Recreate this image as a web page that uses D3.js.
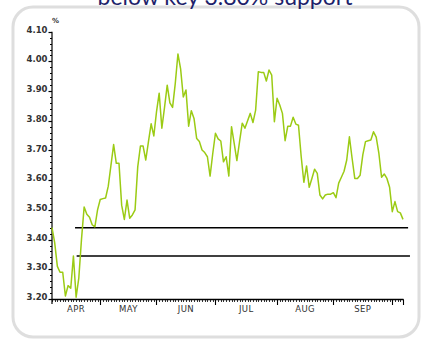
<!DOCTYPE html>
<html>
<head>
<meta charset="utf-8">
<script src="https://cdn.jsdelivr.net/npm/d3@7"></script>
<style>
  body { margin: 0; background: #fff; }
  svg { display: block; }
  .tick-label { font-family: "DejaVu Sans", sans-serif; fill: #333; }
</style>
</head>
<body>
<svg id="chart" width="424" height="342"></svg>
<script>
// daily yields, trading days from 7 Apr 2009
var startDate = "2009-04-07";
var yields = [
  3.44, 3.39, 3.31, 3.29, 3.29, 3.21, 3.245, 3.236, 3.345, 3.206,
  3.27, 3.40, 3.51, 3.485, 3.475, 3.45, 3.443, 3.50, 3.535, 3.538,
  3.54, 3.58, 3.65, 3.72, 3.657, 3.657, 3.516, 3.468, 3.533, 3.472,
  3.483, 3.50, 3.645, 3.715, 3.715, 3.668, 3.73, 3.79, 3.749, 3.83,
  3.893, 3.775, 3.845, 3.92, 3.86, 3.845, 3.925, 4.025, 3.975, 3.88,
  3.904, 3.782, 3.834, 3.808, 3.74, 3.73, 3.702, 3.693, 3.679, 3.614,
  3.69, 3.758, 3.739, 3.732, 3.662, 3.679, 3.614, 3.78, 3.724, 3.666,
  3.73, 3.792, 3.775, 3.80, 3.825, 3.794, 3.836, 3.965, 3.963, 3.963,
  3.934, 3.971, 3.954, 3.797, 3.876, 3.853, 3.825, 3.733, 3.782, 3.782,
  3.812, 3.789, 3.785, 3.68, 3.593, 3.648, 3.576, 3.606, 3.637, 3.623,
  3.55, 3.537, 3.55, 3.553, 3.553, 3.558, 3.541, 3.59, 3.61, 3.63,
  3.668, 3.746, 3.674, 3.606, 3.606, 3.617, 3.685, 3.73, 3.733, 3.735,
  3.763, 3.745, 3.69, 3.61, 3.621, 3.606, 3.576, 3.494, 3.528, 3.494,
  3.49, 3.468
];
var monthNames = ["APR", "MAY", "JUN", "JUL", "AUG", "SEP", "OCT"];
var yTickValues = [3.2, 3.3, 3.4, 3.5, 3.6, 3.7, 3.8, 3.9, 4.0, 4.1];
// support lines: level and start / end in trading-day units
var supportLevels = [3.44, 3.345];
var supportFrom = [8.6, 9.2];
var supportTo = [132.9, 133.6];
var titleText = "below key 3.80% support";

// trading days (weekdays) for each value
var dates = [];
var d = new Date(startDate + "T00:00:00");
while (dates.length < yields.length) {
    if (d.getDay() != 0 && d.getDay() != 6) dates.push(new Date(d));
    d.setDate(d.getDate() + 1);
}

var svg = d3.select("#chart");

// rounded panel
svg.append("rect")
    .attr("x", 13).attr("y", 7)
    .attr("width", 406).attr("height", 330)
    .attr("rx", 20).attr("ry", 20)
    .attr("fill", "#fff")
    .attr("stroke", "#dedede")
    .attr("stroke-width", 3);

svg.append("text")
    .attr("x", 225).attr("y", 5)
    .attr("text-anchor", "middle")
    .attr("font-family", "Lato, 'DejaVu Sans', sans-serif")
    .attr("font-size", 23)
    .attr("fill", "#1e1f6b")
    .text(titleText);

var x = d3.scaleLinear().domain([0, yields.length - 1]).range([52, 403]);
var y = d3.scaleLinear().domain([3.2, 4.1]).range([299, 31.7]);

var g = svg.append("g");

// y axis
var yMinor = d3.range(3.2, 4.1001, 0.02);
g.append("line")
    .attr("x1", 52).attr("x2", 52)
    .attr("y1", y(4.1)).attr("y2", 304)
    .attr("stroke", "#000").attr("stroke-width", 1.2);
g.selectAll(".yminor").data(yMinor).enter().append("line")
    .attr("x1", 50).attr("x2", 52)
    .attr("y1", function(v) { return Math.round(y(v)) + 0.5; })
    .attr("y2", function(v) { return Math.round(y(v)) + 0.5; })
    .attr("stroke", "#000").attr("stroke-width", 1);
g.selectAll(".ymajor").data(yTickValues).enter().append("line")
    .attr("x1", 48.5).attr("x2", 52)
    .attr("y1", function(v) { return Math.round(y(v)) + 0.5; })
    .attr("y2", function(v) { return Math.round(y(v)) + 0.5; })
    .attr("stroke", "#000").attr("stroke-width", 1.2);
g.selectAll(".ylab").data(yTickValues).enter().append("text")
    .attr("class", "tick-label")
    .attr("x", 47.5)
    .attr("y", function(v) { return y(v) + 1; })
    .attr("text-anchor", "end")
    .attr("font-size", 8.5)
    .attr("font-weight", "bold")
    .text(function(v) { return d3.format(".2f")(v); });
g.append("text")
    .attr("class", "tick-label")
    .attr("x", 52).attr("y", 23)
    .attr("font-size", 7)
    .attr("font-weight", "bold")
    .text("%");

// x axis
g.append("line")
    .attr("x1", 52).attr("x2", 403.5)
    .attr("y1", 299.5).attr("y2", 299.5)
    .attr("stroke", "#000").attr("stroke-width", 1.3);
g.selectAll(".xminor").data(d3.range(yields.length)).enter().append("line")
    .attr("x1", function(i) { return Math.round(x(i)) + 0.5; })
    .attr("x2", function(i) { return Math.round(x(i)) + 0.5; })
    .attr("y1", 299.5).attr("y2", 302)
    .attr("stroke", "#000").attr("stroke-width", 0.8);

// first trading day of each month
var monthStarts = [];
dates.forEach(function(dt, i) {
    if (i == 0 || dt.getMonth() != dates[i - 1].getMonth()) monthStarts.push(i);
});
var majorTicks = monthStarts.slice(1).concat([yields.length - 1]);
g.selectAll(".xmajor").data(majorTicks).enter().append("line")
    .attr("x1", function(i) { return Math.round(x(i)) + 0.5; })
    .attr("x2", function(i) { return Math.round(x(i)) + 0.5; })
    .attr("y1", 299.5).attr("y2", 305)
    .attr("stroke", "#000").attr("stroke-width", 1.1);

var monthBounds = monthStarts.concat([yields.length - 1]);
var labelMonths = monthStarts.slice(0, monthStarts.length - 1).map(function(s, k) {
    return { name: monthNames[dates[s].getMonth() - 3], a: s, b: monthBounds[k + 1] };
});
g.selectAll(".xlab").data(labelMonths).enter().append("text")
    .attr("class", "tick-label")
    .attr("x", function(m) { return (x(m.a) + x(m.b)) / 2; })
    .attr("y", 311.5)
    .attr("text-anchor", "middle")
    .attr("font-size", 8.5)
    .attr("letter-spacing", 0.4)
    .text(function(m) { return m.name; });

// support lines
g.selectAll(".support").data(supportLevels).enter().append("line")
    .attr("x1", function(v, k) { return x(supportFrom[k]); })
    .attr("x2", function(v, k) { return x(supportTo[k]); })
    .attr("y1", function(v) { return y(v); })
    .attr("y2", function(v) { return y(v); })
    .attr("stroke", "#000").attr("stroke-width", 1.6);

// yield line
var line = d3.line()
    .x(function(v, i) { return x(i); })
    .y(function(v) { return y(v); });
g.append("path")
    .datum(yields)
    .attr("d", line)
    .attr("fill", "none")
    .attr("stroke", "#9bcb14")
    .attr("stroke-width", 1.5)
    .attr("stroke-linejoin", "round");
</script>
</body>
</html>
